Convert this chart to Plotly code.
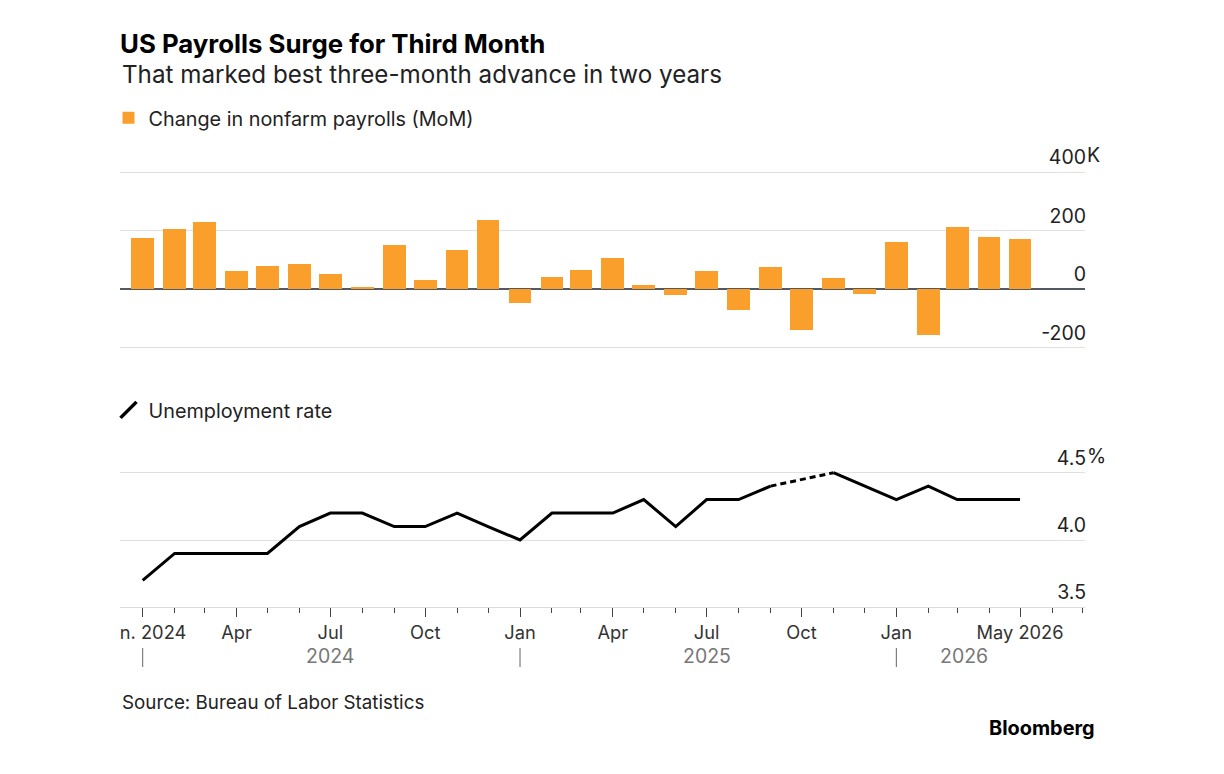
import plotly.graph_objects as go
from plotly.subplots import make_subplots
import pandas as pd

# monthly data, Jan 2024 - May 2026
months = pd.date_range("2024-01-01", "2026-05-01", freq="MS")

payrolls = [176, 206, 229, 64, 78, 87, 53, 9, 153, 33, 134, 237,
            -49, 41, 66, 107, 13, -21, 64, -71, 75, -141, 40, -17,
            160, -157, 214, 179, 173]

unemployment = [3.7, 3.9, 3.9, 3.9, 3.9, 4.1, 4.2, 4.2, 4.1, 4.1, 4.2, 4.1,
                4.0, 4.2, 4.2, 4.2, 4.3, 4.1, 4.3, 4.3, 4.4, None, 4.5, 4.4,
                4.3, 4.4, 4.3, 4.3, 4.3]

month_ticks = ["2024-01-01", "2024-04-01", "2024-07-01", "2024-10-01", "2025-01-01",
               "2025-04-01", "2025-07-01", "2025-10-01", "2026-01-01", "2026-05-01"]
month_labels = ["Jan. 2024", "Apr", "Jul", "Oct", "Jan", "Apr", "Jul", "Oct", "Jan", "May 2026"]

years = ["2024", "2025", "2026"]
year_pos = ["2024-07-01", "2025-07-01", "2026-03-08"]
year_starts = ["2024-01-01", "2025-01-01", "2026-01-01"]

pay_ticks = [-200, 0, 200, 400]
pay_labels = ["-200", "0", "200", "400"]
rate_ticks = [3.5, 4.0, 4.5]
rate_labels = ["3.5", "4.0", "4.5"]

ORANGE = "#fa9f2b"
W, H = 1224, 774
OFF = 8  # page body margin in the browser


def px(x):
    return (x - OFF) / W


def py(y):
    return 1 - (y - OFF) / H


# bridge over missing months with a dashed segment
gap_x, gap_y = [], []
for i, v in enumerate(unemployment):
    if v is None and 0 < i < len(unemployment) - 1:
        gap_x += [months[i - 1], months[i + 1], None]
        gap_y += [unemployment[i - 1], unemployment[i + 1], None]

fig = make_subplots(rows=2, cols=1)

fig.add_trace(go.Bar(x=months, y=payrolls, marker_color=ORANGE, marker_line_width=0,
                     width=22 * 86400000, name="Change in nonfarm payrolls (MoM)",
                     legend="legend"), row=1, col=1)

fig.add_trace(go.Scatter(x=months, y=unemployment, mode="lines", connectgaps=False,
                         line=dict(color="black", width=3), showlegend=False), row=2, col=1)
fig.add_trace(go.Scatter(x=gap_x, y=gap_y, mode="lines",
                         line=dict(color="black", width=3, dash="6px,4px"), showlegend=False),
              row=2, col=1)
# legend entry with a slanted stroke
fig.add_trace(go.Scatter(x=[None], y=[None], mode="markers", name="Unemployment rate",
                         marker=dict(symbol="line-ne", size=16, color="black",
                                     line=dict(width=3.5, color="black")),
                         legend="legend2"), row=2, col=1)

xrange = ["2023-12-10", "2026-07-03"]
font = "Inter, Liberation Sans, Arial, sans-serif"
TXT = "#222222"
TICK_SHIFT = -1

fig.update_layout(
    width=W, height=H,
    margin=dict(l=0, r=0, t=0, b=0, autoexpand=False),
    paper_bgcolor="white", plot_bgcolor="white",
    font=dict(family=font, color=TXT),
    title=dict(text="<b>US Payrolls Surge for Third Month</b>", x=px(120), xanchor="left",
               y=py(44), yanchor="middle", font=dict(size=25.8, color="black")),
    bargap=0,
    legend=dict(x=px(108.5), y=py(118), xanchor="left", yanchor="middle",
                font=dict(size=19.8, color=TXT), bgcolor="rgba(0,0,0,0)"),
    legend2=dict(x=px(108.5), y=py(410), xanchor="left", yanchor="middle",
                 font=dict(size=19.8, color=TXT), bgcolor="rgba(0,0,0,0)"),
    xaxis=dict(domain=[px(120), px(1085)], type="date", range=xrange, automargin=False,
               showgrid=False, showticklabels=False, ticks="", zeroline=False),
    yaxis=dict(domain=[py(348.8), py(170.8)], range=[-205, 405], side="right",
               automargin=False,
               tickvals=pay_ticks, ticktext=pay_labels, ticklabelposition="inside top",
               ticklabeloverflow="allow", ticklabelshift=TICK_SHIFT, ticklabelstandoff=-4,
               gridcolor="#e0e0e0", gridwidth=1, zeroline=True, zerolinecolor="#535861",
               zerolinewidth=1.5, tickfont=dict(size=19.5, color=TXT)),
    xaxis2=dict(domain=[px(120), px(1085)], type="date", range=xrange, automargin=False,
                showgrid=False, showline=True, linecolor="#dcdcdc", linewidth=1,
                tickvals=month_ticks, ticktext=month_labels, ticks="outside",
                ticklen=9, tickwidth=1, tickcolor="#444444",
                tickfont=dict(size=18.3, color="#333333"),
                minor=dict(ticks="outside", ticklen=5, tickwidth=1, tickcolor="#444444",
                           dtick="M1", tick0="2024-01-01", showgrid=False)),
    yaxis2=dict(domain=[py(607.3), py(470)], range=[3.5, 4.52], side="right",
                automargin=False,
                tickvals=rate_ticks, ticktext=rate_labels, ticklabelposition="inside top",
                ticklabeloverflow="allow", ticklabelshift=TICK_SHIFT, ticklabelstandoff=-4,
                gridcolor="#e0e0e0", gridwidth=1, zeroline=False,
                tickfont=dict(size=19.5, color=TXT)),
)

annos = [
    dict(text="That marked best three-month advance in two years", x=px(120), y=py(75),
         font=dict(size=24.2, color=TXT)),
    dict(text="Source: Bureau of Labor Statistics", x=px(120), y=py(702),
         font=dict(size=18.8, color=TXT)),
    dict(text="<b>Bloomberg</b>", x=px(1097), y=py(728), xanchor="right",
         font=dict(size=19.9, color="black")),
]
for a in annos:
    a.setdefault("xanchor", "left")
    fig.add_annotation(xref="paper", yref="paper", yanchor="middle", showarrow=False, **a)

# unit suffixes hanging past the plot edge
for suffix, ref, val in [("K", "y", 400), ("%", "y2", 4.5)]:
    fig.add_annotation(text=suffix, xref="paper", yref=ref, x=px(1085), y=val, xanchor="left",
                       yanchor="bottom", xshift=0, yshift=3, showarrow=False,
                       font=dict(size=19.5, color=TXT))

# year row under the month labels
for yr, pos in zip(years, year_pos):
    fig.add_annotation(text=yr, x=pos, xref="x2", y=py(656), yref="paper", showarrow=False,
                       yanchor="middle", font=dict(size=19.5, color="#777777"))
for s in year_starts:
    fig.add_shape(type="line", x0=s, x1=s, xref="x2", y0=py(648), y1=py(667), yref="paper",
                  line=dict(color="#666666", width=1))

# crop of the first month label at the left edge
fig.add_shape(type="rect", xref="paper", yref="paper", x0=px(0), x1=px(120),
              y0=py(645), y1=py(618), fillcolor="white", line_width=0, layer="above")

fig.write_html("out.html")
